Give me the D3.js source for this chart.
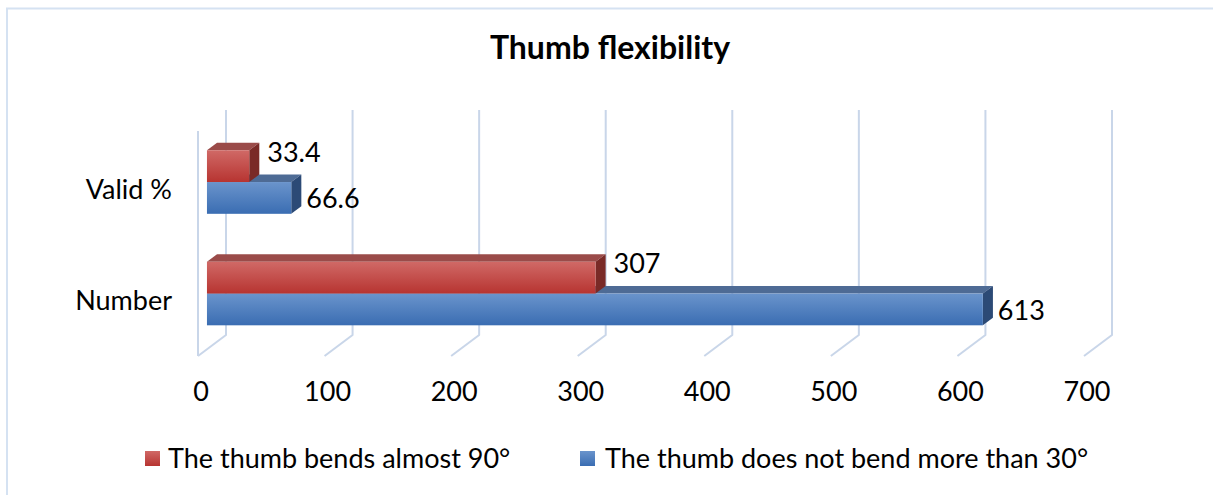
<!DOCTYPE html>
<html>
<head>
<meta charset="utf-8">
<script src="https://cdn.jsdelivr.net/npm/d3@7/dist/d3.min.js"></script>
<style>
  html, body { margin: 0; padding: 0; background: #fff; overflow: hidden; }
  svg { display: block; font-family: Lato, "Open Sans", sans-serif; }
</style>
</head>
<body>
<svg id="chart" width="1213" height="495"></svg>
<script>
// Chart data
const categories = ["Valid %", "Number"];
const seriesNames = ["The thumb bends almost 90°", "The thumb does not bend more than 30°"];
const bendsAlmost90 = [33.4, 307];
const notMoreThan30 = [66.6, 613];
const xTicks = [0, 100, 200, 300, 400, 500, 600, 700];

const svg = d3.select("#chart");
const W = 1213, H = 495;
const bodySize = 27;

// chart frame (top and left edges)
svg.append("path")
  .attr("d", `M7,${H} L7,8.5 L${W},8.5`)
  .attr("fill", "none").attr("stroke", "#d5e2f2").attr("stroke-width", 2);

// Title
svg.append("text")
  .attr("x", 610).attr("y", 59)
  .attr("text-anchor", "middle")
  .attr("font-size", 32).attr("font-weight", "bold")
  .attr("fill", "#000")
  .text("Thumb flexibility");

// 3D geometry: front plane of the plot box and the depth offset of the walls
const wallDepth = { dx: 28, dy: -21 };
const barDepthStart = 0.32, barDepthEnd = 0.68;

const x = d3.scaleLinear().domain([0, 700]).range([198, 1084]);
const y = d3.scaleBand().domain(categories).range([133, 356])
  .paddingInner(0.43).paddingOuter(0.215);

const gridColor = "#c9d6e9";
const grid = svg.append("g").attr("fill", "none").attr("stroke", gridColor).attr("stroke-width", 2);
const floorY = 356, backTop = 110;

// left wall edge
grid.append("line").attr("x1", x(0)).attr("x2", x(0)).attr("y1", 131).attr("y2", floorY);

// back wall gridlines + floor diagonals
xTicks.forEach(t => {
  const bx = x(t) + wallDepth.dx, by = floorY + wallDepth.dy;
  grid.append("path")
    .attr("d", `M${bx},${backTop} L${bx},${by} L${x(t)},${floorY}`)
    .attr("stroke-linejoin", "round");
});

// Tick labels
svg.append("g").selectAll("text").data(xTicks).join("text")
  .attr("x", d => x(d) + 3)
  .attr("y", 401)
  .attr("text-anchor", "middle")
  .attr("font-size", bodySize)
  .attr("fill", "#000")
  .text(d => d);

// Category labels
svg.append("g").selectAll("text").data(categories).join("text")
  .attr("x", 172)
  .attr("y", (d, i) => y(d) + y.bandwidth() / 2 + 10)
  .attr("text-anchor", "end")
  .attr("font-size", bodySize)
  .attr("fill", "#000")
  .text(d => d);

// Gradients for bar front faces
const defs = svg.append("defs");
function grad(id, c1, c2) {
  const g = defs.append("linearGradient").attr("id", id)
    .attr("x1", 0).attr("y1", 0).attr("x2", 0).attr("y2", 1);
  g.append("stop").attr("offset", "0%").attr("stop-color", c1);
  g.append("stop").attr("offset", "100%").attr("stop-color", c2);
}
grad("redFront", "#d06966", "#b73431");
grad("blueFront", "#6a94cc", "#3a6db2");

const styles = [
  { front: "url(#redFront)", top: "#9a4b49", side: "#7a2a27", lab: -14, labDx: 18 },
  { front: "url(#blueFront)", top: "#4e6b95", side: "#2c4a76", lab: 1, labDx: 15 }
];
const seriesValues = [bendsAlmost90, notMoreThan30];

const bx0 = wallDepth.dx * barDepthStart, by0 = wallDepth.dy * barDepthStart;
const ddx = wallDepth.dx * (barDepthEnd - barDepthStart), ddy = wallDepth.dy * (barDepthEnd - barDepthStart);
const barH = y.bandwidth() / 2;

const bars = svg.append("g");
categories.forEach((cat, ci) => {
  // lower series first so the upper bar overlaps its top face
  [1, 0].forEach(si => {
    const v = seriesValues[si][ci];
    const st = styles[si];
    const xl = x(0) + bx0, xr = x(v) + bx0;
    const yt = y(cat) + si * barH + by0, yb = yt + barH;
    const g = bars.append("g");
    g.append("path")
      .attr("d", `M${xl},${yt} L${xl + ddx},${yt + ddy} L${xr + ddx},${yt + ddy} L${xr},${yt} Z`)
      .attr("fill", st.top);
    g.append("path")
      .attr("d", `M${xr},${yt} L${xr + ddx},${yt + ddy} L${xr + ddx},${yb + ddy} L${xr},${yb} Z`)
      .attr("fill", st.side);
    g.append("rect")
      .attr("x", xl).attr("y", yt).attr("width", xr - xl).attr("height", barH)
      .attr("fill", st.front);
    g.append("text")
      .attr("x", xr + st.labDx)
      .attr("y", (yt + yb) / 2 + st.lab)
      .attr("dy", "0.35em")
      .attr("font-size", bodySize)
      .attr("fill", "#000")
      .text(v);
  });
});

// Legend
const legend = [
  { name: seriesNames[0], color: "url(#redFront)", sx: 145, tx: 168 },
  { name: seriesNames[1], color: "url(#blueFront)", sx: 580, tx: 605 }
];
const lg = svg.append("g");
legend.forEach(l => {
  lg.append("rect").attr("x", l.sx).attr("y", 451).attr("width", 15).attr("height", 15).attr("fill", l.color);
  lg.append("text").attr("x", l.tx).attr("y", 459).attr("dy", "0.35em")
    .attr("font-size", bodySize).attr("fill", "#000").text(l.name);
});
</script>
</body>
</html>
